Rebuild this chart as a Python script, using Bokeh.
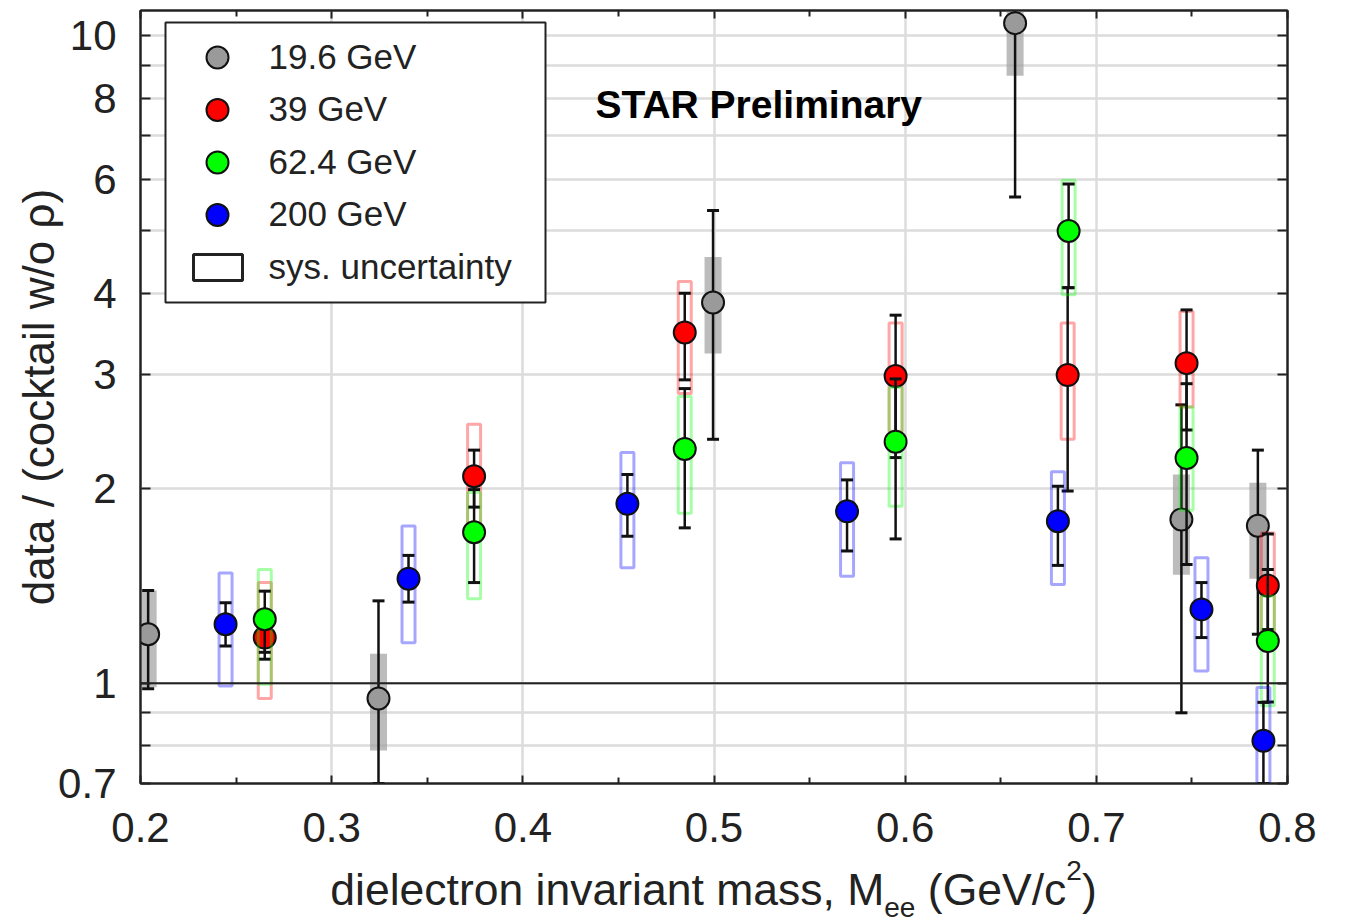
from bokeh.plotting import figure
from bokeh.layouts import column
from bokeh.models import (Range1d, LinearScale, FixedTicker, LogAxis, LinearAxis,
                          Span, Label, CustomJSTickFormatter, Div)
from bokeh.core.properties import value
from bokeh.embed import file_html
from bokeh.resources import INLINE

# ---------------- data ----------------
series_names = ["19.6 GeV", "39 GeV", "62.4 GeV", "200 GeV"]
series_colors = ["#9a9a9a", "#ff0000", "#00ff00", "#0000ff"]

# 19.6 GeV
m_196 = [0.204, 0.3245, 0.4995, 0.6575, 0.7445, 0.7845]
r_196 = [1.19, 0.947, 3.87, 10.45, 1.79, 1.75]
stat_lo_196 = [0.98, 0.70, 2.38, 5.63, 0.90, 1.19]
stat_hi_196 = [1.39, 1.34, 5.37, 13.0, 2.69, 2.29]
sys_lo_196 = [0.986, 0.787, 3.23, 8.67, 1.47, 1.45]
sys_hi_196 = [1.39, 1.11, 4.55, 12.0, 2.10, 2.04]

# 39 GeV
m_39 = [0.265, 0.3745, 0.4847, 0.595, 0.685, 0.7472, 0.7897]
r_39 = [1.176, 2.087, 3.48, 2.98, 2.99, 3.12, 1.415]
stat_lo_39 = [1.089, 1.87, 2.94, 2.23, 1.98, 2.46, 1.21]
stat_hi_39 = [1.28, 2.29, 4.00, 3.70, 4.08, 3.77, 1.70]
sys_lo_39 = [0.947, 1.75, 2.80, 2.45, 2.38, 2.67, 1.15]
sys_hi_39 = [1.43, 2.51, 4.17, 3.60, 3.60, 3.75, 1.706]

# 62.4 GeV
m_624 = [0.265, 0.3745, 0.4847, 0.595, 0.6855, 0.7472, 0.7897]
r_624 = [1.255, 1.71, 2.30, 2.36, 4.99, 2.227, 1.162]
stat_lo_624 = [1.116, 1.43, 1.737, 1.67, 4.08, 1.525, 0.935]
stat_hi_624 = [1.387, 1.99, 2.85, 2.95, 5.90, 2.90, 1.498]
sys_lo_624 = [0.996, 1.35, 1.83, 1.875, 3.98, 1.85, 0.923]
sys_hi_624 = [1.498, 1.97, 2.77, 2.86, 5.98, 2.67, 1.362]

# 200 GeV
m_200 = [0.2445, 0.3402, 0.4547, 0.5696, 0.6799, 0.7550, 0.7874]
r_200 = [1.233, 1.45, 1.892, 1.842, 1.779, 1.30, 0.815]
stat_lo_200 = [1.141, 1.334, 1.686, 1.60, 1.52, 1.176, 0.70]
stat_hi_200 = [1.331, 1.575, 2.10, 2.06, 2.014, 1.43, 0.934]
sys_lo_200 = [0.99, 1.155, 1.507, 1.463, 1.42, 1.044, 0.65]
sys_hi_200 = [1.48, 1.748, 2.27, 2.19, 2.12, 1.562, 0.985]

x_tick_values = [0.2, 0.3, 0.4, 0.5, 0.6, 0.7, 0.8]
x_tick_labels = ["0.2", "0.3", "0.4", "0.5", "0.6", "0.7", "0.8"]
x_minor_values = [0.25, 0.35, 0.45, 0.55, 0.65, 0.75]
y_tick_values = [0.7, 0.8, 0.9, 1, 2, 3, 4, 5, 6, 7, 8, 9, 10]
y_tick_labels = ["0.7", "", "", "1", "2", "3", "4", "", "6", "", "8", "", "10"]
legend_labels = series_names + ["sys. uncertainty"]

# ---------------- layout ----------------
W, H = 1345, 921
PH = 864                      # figure height; the x-axis title sits in a Div below
FL, FR, FT, FB = 140, 1287, 10, 783
X0, X1 = 0.2, 0.8
Y0, Y1 = 0.7, 10.93
FONT = "Liberation Sans"
TXT = "#222222"
TXT_SHIFT = 13                # alphabetic-baseline correction for svg text

p = figure(width=W, height=PH, x_range=Range1d(X0, X1), y_range=Range1d(Y0, Y1),
           y_axis_type="log", output_backend="svg", toolbar_location=None,
           min_border_left=FL, min_border_right=W - FR, min_border_top=FT,
           min_border_bottom=PH - FB)
p.background_fill_color = "white"
p.border_fill_color = "white"
p.outline_line_color = "#222222"
p.outline_line_width = 2

# pixel helper ranges for legend / labels
p.extra_x_ranges = {"px": Range1d(FL, FR)}
p.extra_y_ranges = {"py": Range1d(FB, FT)}
p.extra_x_scales = {"px": LinearScale()}
p.extra_y_scales = {"py": LinearScale()}

fmt_code = ("const i = vals.findIndex(v => Math.abs(v - tick) < 1e-9);"
            "return i >= 0 ? labs[i] : '';")

# bottom axis
xa = p.xaxis[0]
xa.ticker = FixedTicker(ticks=x_tick_values, minor_ticks=x_minor_values)
xa.formatter = CustomJSTickFormatter(args=dict(vals=x_tick_values, labs=x_tick_labels), code=fmt_code)
xa.major_label_text_font = FONT
xa.major_label_text_font_size = "42px"
xa.major_label_text_color = TXT
xa.major_label_standoff = 29
xa.major_tick_in = 8
xa.major_tick_out = 0
xa.minor_tick_in = 6
xa.minor_tick_out = 0
xa.axis_line_color = "#222222"
xa.axis_line_width = 2
xa.major_tick_line_color = "#222222"
xa.major_tick_line_width = 2
xa.minor_tick_line_color = "#222222"
xa.minor_tick_line_width = 2

# left axis
ya = p.yaxis[0]
ya.ticker = FixedTicker(ticks=y_tick_values)
ya.formatter = CustomJSTickFormatter(args=dict(vals=y_tick_values, labs=y_tick_labels), code=fmt_code)
ya.major_label_text_font = FONT
ya.major_label_text_font_size = "42px"
ya.major_label_text_color = TXT
ya.major_label_standoff = 24
ya.major_tick_in = 10
ya.major_tick_out = 0
ya.minor_tick_line_color = None
ya.axis_line_color = "#222222"
ya.axis_line_width = 2
ya.major_tick_line_color = "#222222"
ya.major_tick_line_width = 2
ya.axis_label = "data / (cocktail w/o \u03c1)"
ya.axis_label_text_font = FONT
ya.axis_label_text_font_size = "44px"
ya.axis_label_text_font_style = "normal"
ya.axis_label_text_color = TXT
ya.axis_label_standoff = -8

# top and right axes (ticks only)
ta = LinearAxis(ticker=FixedTicker(ticks=x_tick_values, minor_ticks=x_minor_values),
                formatter=CustomJSTickFormatter(code="return '';"),
                major_label_text_font_size="0px", major_label_standoff=0,
                major_tick_in=8, major_tick_out=0, minor_tick_in=6, minor_tick_out=0,
                axis_line_color="#222222", axis_line_width=2,
                major_tick_line_color="#222222", major_tick_line_width=2,
                minor_tick_line_color="#222222", minor_tick_line_width=2)
p.add_layout(ta, "above")
ra = LogAxis(ticker=FixedTicker(ticks=y_tick_values),
             formatter=CustomJSTickFormatter(code="return '';"),
             major_label_text_font_size="0px", major_label_standoff=0,
             major_tick_in=10, major_tick_out=0, minor_tick_line_color=None,
             axis_line_color="#222222", axis_line_width=2,
             major_tick_line_color="#222222", major_tick_line_width=2)
p.add_layout(ra, "right")

# grid
p.xgrid.grid_line_color = "#dcdcdc"
p.xgrid.grid_line_width = 2.5
p.ygrid.grid_line_color = "#dcdcdc"
p.ygrid.grid_line_width = 2.5

# reference line at 1
p.add_layout(Span(location=1, dimension="width", line_color="#222222", line_width=2))

# ---------------- data marks ----------------
px_per_unit = (FR - FL) / (X1 - X0)
box_hw = 6.5 / px_per_unit
gray_hw = 8.5 / px_per_unit
cap_hw = 6 / px_per_unit

all_series = [
    (m_196, r_196, stat_lo_196, stat_hi_196, sys_lo_196, sys_hi_196),
    (m_39, r_39, stat_lo_39, stat_hi_39, sys_lo_39, sys_hi_39),
    (m_624, r_624, stat_lo_624, stat_hi_624, sys_lo_624, sys_hi_624),
    (m_200, r_200, stat_lo_200, stat_hi_200, sys_lo_200, sys_hi_200),
]

for k, (xs, ys, lo, hi, slo, shi) in enumerate(all_series):
    color = series_colors[k]
    if k == 0:
        p.quad(left=[x - gray_hw for x in xs], right=[x + gray_hw for x in xs],
               bottom=slo, top=shi, fill_color="#a0a0a0", fill_alpha=0.7, line_color=None)
    else:
        p.quad(left=[x - box_hw for x in xs], right=[x + box_hw for x in xs],
               bottom=slo, top=shi, fill_color=None, line_color=color,
               line_alpha=0.35, line_width=3)
    p.segment(x0=xs, y0=lo, x1=xs, y1=hi, line_color="#111111", line_width=2.5)
    p.segment(x0=[x - cap_hw for x in xs], y0=lo, x1=[x + cap_hw for x in xs], y1=lo,
              line_color="#111111", line_width=3)
    p.segment(x0=[x - cap_hw for x in xs], y0=hi, x1=[x + cap_hw for x in xs], y1=hi,
              line_color="#111111", line_width=3)
    p.scatter(x=xs, y=ys, size=22, fill_color=color, line_color="#111111", line_width=2)

# ---------------- legend (drawn in pixel coordinates) ----------------
LG_L, LG_R, LG_T, LG_B = 165, 545, 22, 302
pitch = 52.5
first_c = LG_T + 35
centers = [first_c + i * pitch for i in range(5)]
p.quad(left=[LG_L], right=[LG_R], top=[LG_T], bottom=[LG_B], x_range_name="px", y_range_name="py",
       fill_color="white", line_color="#222222", line_width=2)
p.scatter(x=[217] * 4, y=centers[:4], size=22, fill_color=series_colors, line_color="#111111",
          line_width=2, x_range_name="px", y_range_name="py")
p.quad(left=[193], right=[242], top=[centers[4] - 13], bottom=[centers[4] + 13],
       x_range_name="px", y_range_name="py", fill_color="white", line_color="#222222", line_width=3)
p.text(x=[268] * 5, y=[c + 11.5 - TXT_SHIFT for c in centers], text=legend_labels,
       x_range_name="px", y_range_name="py", text_font=value(FONT), text_font_size="35px",
       text_baseline="alphabetic", text_align="left", text_color=TXT)

# STAR Preliminary
p.add_layout(Label(x=595, y=117 - TXT_SHIFT, x_range_name="px", y_range_name="py",
                   text="STAR Preliminary", text_font=FONT, text_font_size="39px",
                   text_font_style="bold", text_color="black",
                   text_baseline="alphabetic", text_align="left"))

# x axis title (with subscript / superscript) in a Div below the figure
xtitle = Div(
    text=('dielectron invariant mass, M'
          '<span style="font-size:28px;vertical-align:-12px;line-height:0">ee</span>'
          ' (GeV/c<span style="font-size:28px;vertical-align:25px;line-height:0">2</span>)'),
    width=W, height=H - PH, margin=(0, 0, 0, 0),
    styles={"font-family": FONT, "font-size": "44.5px", "color": TXT, "line-height": "44px",
            "padding-top": "4px", "padding-left": "82px", "text-align": "center",
            "box-sizing": "border-box", "width": f"{W}px", "white-space": "nowrap"})

layout = column(p, xtitle, spacing=0)
open("out.html", "w").write(file_html(layout, INLINE))
